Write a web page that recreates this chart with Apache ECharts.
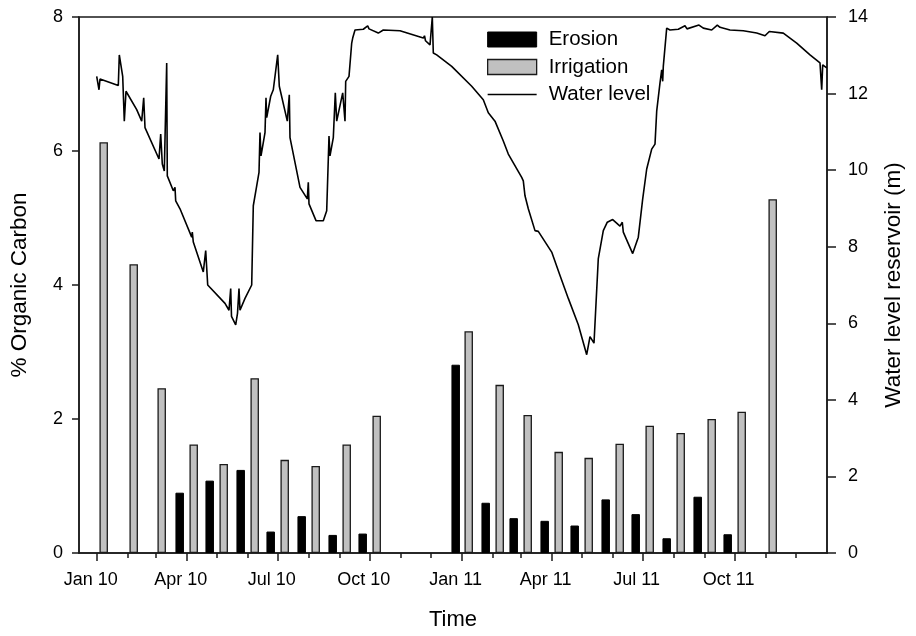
<!DOCTYPE html>
<html>
<head>
<meta charset="utf-8">
<script src="https://cdn.jsdelivr.net/npm/echarts@6/dist/echarts.min.js"></script>
<style>
html,body{margin:0;padding:0;background:#fff;}
#chart{width:916px;height:636px;}
</style>
</head>
<body>
<div id="chart"></div>
<script>
// ---- Data ----
// Irrigation samples (% organic carbon)
const irrigationDates = ['2010-01-08','2010-02-07','2010-03-07','2010-04-08','2010-05-08','2010-06-08','2010-07-08','2010-08-08','2010-09-08','2010-10-08',
  '2011-01-08','2011-02-08','2011-03-08','2011-04-08','2011-05-08','2011-06-08','2011-07-08','2011-08-08','2011-09-08','2011-10-08','2011-11-08'];
const irrigationValues = [6.13,4.31,2.46,1.62,1.33,2.61,1.39,1.30,1.62,2.05,
  3.31,2.51,2.06,1.51,1.42,1.63,1.90,1.79,2.00,2.11,5.28];

// Erosion samples (% organic carbon)
const erosionDates = ['2010-03-25','2010-04-24','2010-05-25','2010-06-24','2010-07-25','2010-08-25','2010-09-24',
  '2010-12-26','2011-01-25','2011-02-22','2011-03-25','2011-04-24','2011-05-25','2011-06-24','2011-07-25','2011-08-25','2011-09-24'];
const erosionValues = [0.90,1.08,1.24,0.32,0.55,0.27,0.29,
  2.81,0.75,0.52,0.48,0.41,0.80,0.58,0.22,0.84,0.28];

// Water level of the reservoir (m); days counted from 1 Jan 2010
const waterDays = [0,1.8,2.3,3.3,21.6,22.6,26,27.6,29.3,40,41.6,45,47,48.3,62.3,64,65.6,67.6,70,70.6,
  76.6,78.3,79,83.3,95,95.6,96.6,106.6,109,111,128.3,132.3,134,134.8,139,140.8,142.3,143.3,148.3,155,
  156.6,160,162.3,163.3,164.3,168.3,169.3,170,174,176.6,181,182.6,190.6,192.6,193.3,203.3,210.6,211.6,212.3,219.3,
  226.6,230,231.6,232.3,233.3,236.6,238.6,240,246,248.3,249,252.3,255,256,258.3,266.6,271,272.3,281.6,286.6,
  303.3,326.6,327.8,328.8,333.3,335.6,336.6,340,355,375,386.6,391.6,398.3,406.6,411.6,425,426.6,428.3,431.6,438.3,
  441.6,455,463.3,471.6,481.6,490,493.3,495,497.3,501.6,506.6,510.6,516,523.3,525.6,526.6,531.6,536,541.6,546,
  550,555,558.3,560,563.3,565,566,566.6,570,573.3,581.6,588.3,590.3,602.3,606.6,615,620.6,623.3,633.3,646.6,
  660,668.3,672.6,686.6,700,713.3,723.3,725,726,730];
const waterLevels = [12.45,12.44,12.10,12.38,12.21,13.01,12.45,11.28,12.06,11.58,11.54,11.28,11.89,11.11,10.29,10.94,10.16,9.98,12.80,9.85,
  9.46,9.55,9.20,8.99,8.25,8.38,8.12,7.34,7.90,7.00,6.52,6.34,6.91,6.18,5.96,6.26,6.91,6.34,6.65,7.00,
  9.07,9.59,9.94,10.98,10.37,10.98,11.89,11.37,11.93,12.10,13.01,12.19,11.28,11.97,10.85,9.55,9.25,9.68,9.12,8.68,
  8.68,8.94,10.29,10.89,10.37,10.85,12.02,11.28,12.02,11.28,12.32,12.45,13.32,13.45,13.66,13.68,13.77,13.69,13.58,13.66,
  13.64,13.45,13.51,13.38,13.27,14.0,13.06,13.01,12.71,12.19,11.84,11.50,11.28,10.76,10.42,9.81,9.72,9.33,8.99,8.42,
  8.40,7.86,7.25,6.65,5.96,5.18,5.65,5.68,5.48,7.69,8.42,8.64,8.71,8.54,8.64,8.38,8.08,7.82,8.25,9.25,
  10.03,10.55,10.68,11.54,12.28,12.62,12.32,12.71,13.71,13.66,13.68,13.77,13.69,13.79,13.71,13.66,13.79,13.73,13.66,13.64,
  13.58,13.51,13.62,13.58,13.32,13.01,12.80,12.10,12.75,12.67];

// Tick labels
const monthNames = ['Jan','Feb','Mar','Apr','May','Jun','Jul','Aug','Sep','Oct','Nov','Dec'];
const tickYears = [2010, 2011];
const labelMonths = [0, 3, 6, 9];

// ---- helpers ----
const START = Date.UTC(2010, 0, 1);
function toDay(s) {
  const p = s.split('-').map(Number);
  return (Date.UTC(p[0], p[1] - 1, p[2]) - START) / 86400000;
}
function monthDay(y, m) { return (Date.UTC(y, m, 1) - START) / 86400000; }

const monthTicks = [];
tickYears.forEach(y => { for (let m = 0; m < 12; m++) monthTicks.push(monthDay(y, m)); });
const quarterTicks = [];
const quarterLabel = {};
tickYears.forEach(y => labelMonths.forEach(m => {
  const d = monthDay(y, m);
  quarterTicks.push(d);
  quarterLabel[Math.round(d)] = monthNames[m] + ' ' + String(y).slice(2);
}));

const FONT = '"Liberation Sans", Arial, Helvetica, sans-serif';
const AX = '#1a1a1a';
const AXW = 1.5;
const X_MIN = -17.7, X_MAX = 730.3;

const chart = echarts.init(document.getElementById('chart'), null, { renderer: 'canvas' });
chart.setOption({
  animation: false,
  backgroundColor: '#fff',
  textStyle: { fontFamily: FONT },
  grid: { left: 79, right: 89, top: 17, bottom: 80, show: true, borderColor: AX, borderWidth: AXW, backgroundColor: 'transparent' },
  legend: {
    orient: 'vertical', left: 482, top: 24,
    itemWidth: 49, itemHeight: 15, itemGap: 6.5,
    textStyle: { fontSize: 20.5, color: '#000', fontFamily: FONT, lineHeight: 20, padding: [0, 0, 0, 7] },
    data: [
      { name: 'Erosion', icon: 'rect', itemStyle: { borderColor: '#000', borderWidth: 1 } },
      { name: 'Irrigation', icon: 'rect', itemStyle: { borderColor: AX, borderWidth: 1.3 } },
      { name: 'Water level', icon: 'path://M0,0L49,0L49,1.7L0,1.7Z', itemStyle: { color: '#000', borderWidth: 0 } }
    ]
  },
  xAxis: [
    {
      type: 'value', min: X_MIN, max: X_MAX, position: 'bottom',
      axisLine: { show: true, onZero: false, lineStyle: { color: AX, width: AXW } },
      axisTick: { show: true, length: 5, customValues: monthTicks, lineStyle: { color: AX, width: AXW } },
      axisLabel: { show: false },
      splitLine: { show: false },
      name: 'Time', nameLocation: 'middle', nameGap: 56,
      nameTextStyle: { fontSize: 22, color: '#000', fontFamily: FONT }
    },
    {
      type: 'value', min: X_MIN, max: X_MAX, position: 'bottom',
      axisLine: { show: false, onZero: false },
      axisTick: { show: true, length: 8, customValues: quarterTicks, lineStyle: { color: AX, width: AXW } },
      axisLabel: {
        show: true, customValues: quarterTicks, margin: 18, fontSize: 18, color: '#000', fontFamily: FONT,
        padding: [0, 12, 0, 0],
        formatter: v => quarterLabel[Math.round(v)] || ''
      },
      splitLine: { show: false }
    }
  ],
  yAxis: [
    {
      type: 'value', min: 0, max: 8, interval: 2, position: 'left',
      axisLine: { show: true, onZero: false, lineStyle: { color: AX, width: AXW } },
      axisTick: { show: true, length: 7, lineStyle: { color: AX, width: AXW } },
      axisLabel: { margin: 16, fontSize: 18, color: '#000', fontFamily: FONT },
      splitLine: { show: false },
      name: '% Organic Carbon', nameLocation: 'middle', nameGap: 48,
      nameTextStyle: { fontSize: 22.5, color: '#000', fontFamily: FONT }
    },
    {
      type: 'value', min: 0, max: 14, interval: 2, position: 'right',
      axisLine: { show: true, onZero: false, lineStyle: { color: AX, width: AXW } },
      axisTick: { show: true, length: 9, lineStyle: { color: AX, width: AXW } },
      axisLabel: { margin: 21, fontSize: 18, color: '#000', fontFamily: FONT },
      splitLine: { show: false },
      name: 'Water level reservoir (m)', nameLocation: 'middle', nameGap: 55,
      nameTextStyle: { fontSize: 22.5, color: '#000', fontFamily: FONT }
    }
  ],
  series: [
    {
      name: 'Erosion', type: 'bar', xAxisIndex: 0, yAxisIndex: 0,
      barWidth: 8.5, barGap: '-100%',
      itemStyle: { color: '#000', borderColor: '#000', borderWidth: 1 },
      data: erosionDates.map((d, i) => [toDay(d), erosionValues[i]])
    },
    {
      name: 'Irrigation', type: 'bar', xAxisIndex: 0, yAxisIndex: 0,
      barWidth: 8.5, barGap: '-100%',
      itemStyle: { color: '#c0c0c0', borderColor: AX, borderWidth: 1.3 },
      data: irrigationDates.map((d, i) => [toDay(d), irrigationValues[i]])
    },
    {
      name: 'Water level', type: 'line', xAxisIndex: 0, yAxisIndex: 1,
      symbol: 'none', showSymbol: false, z: 3,
      lineStyle: { color: '#000', width: 1.6 },
      itemStyle: { color: '#000' },
      data: waterDays.map((d, i) => [d, waterLevels[i]])
    }
  ]
});
</script>
</body>
</html>
